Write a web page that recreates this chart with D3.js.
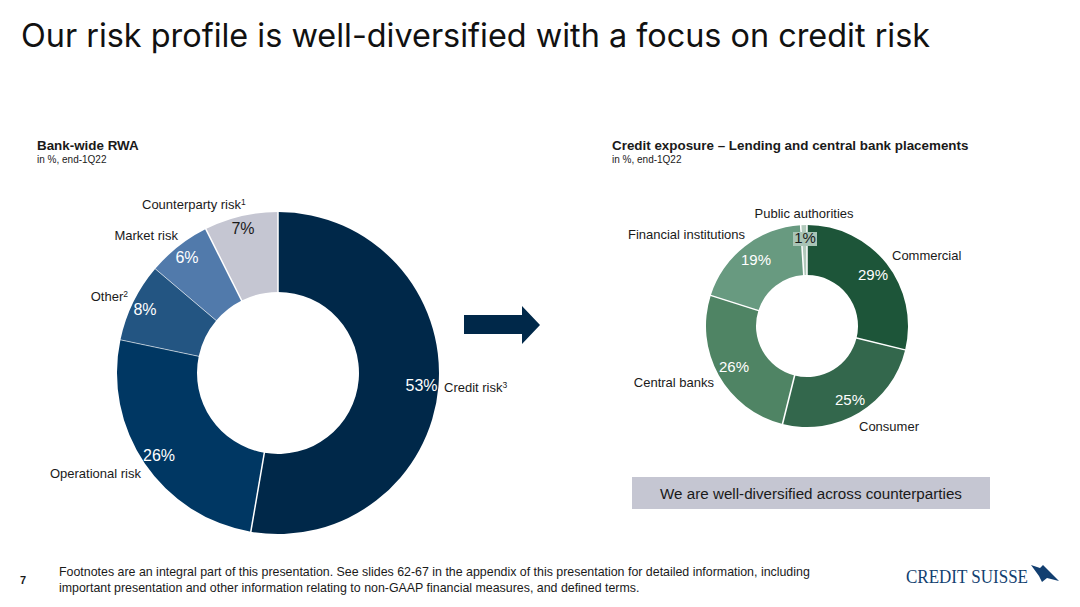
<!DOCTYPE html>
<html>
<head>
<meta charset="utf-8">
<script src="https://cdn.jsdelivr.net/npm/d3@7"></script>
<style>
    html, body { margin: 0; padding: 0; background: #fff; }
    text { font-family: "Liberation Sans", sans-serif; fill: #1a1a1a; }
</style>
</head>
<body>
<svg id="slide" width="1080" height="607"></svg>
<script>
// Bank-wide RWA (slice sizes, labels round them)
var rwaCategories = ['Credit risk', 'Operational risk', 'Other', 'Market risk', 'Counterparty risk'],
    rwaValues = [52.7, 25.6, 7.9, 6.4, 7.4],
    rwaNotes = ['3', '', '2', '', '1'],
    rwaColors = ['#002849', '#003763', '#235582', '#517aab', '#c5c6d2'];

// Credit exposure
var creditCategories = ['Commercial', 'Consumer', 'Central banks', 'Financial institutions', 'Public authorities'],
    creditValues = [28.8, 25.1, 26, 19.1, 1],
    creditColors = ['#1d5539', '#33674c', '#4f8464', '#689a80', '#b1c9bb'];

// label placement, one per slice [percent x, percent y, name x, name y, name anchor]
var rwaLabels = [
    [421.5, 386, 444, 392, 'start'],
    [159, 456, 141, 478, 'end'],
    [145, 310, 128, 301, 'end'],
    [187, 258, 178, 240, 'end'],
    [243, 229, 142, 209, 'start']
];
var creditLabels = [
    [873, 275, 892, 260, 'start'],
    [850, 400, 859, 431, 'start'],
    [734, 367, 714, 387, 'end'],
    [756, 260, 745, 239, 'end'],
    [805, 238, 804, 218, 'middle']
];

// white line at the start of each slice
var rwaSeparators = [1.5, 1.5, 0.6, 0.6, 1.5],
    creditSeparators = [1.5, 1.5, 1.5, 1.5, 1.5];

var svg = d3.select('#slide');

svg.append('text')
    .attr('x', 21).attr('y', 47)
    .style('font-family', 'Inter')
    .style('font-size', '32.4px')
    .style('fill', '#111')
    .text('Our risk profile is well-diversified with a focus on credit risk');

heading(37, 150, 'Bank-wide RWA');
heading(612, 150, 'Credit exposure \u2013 Lending and central bank placements');

donut({
    cx: 278, cy: 373, outer: 161, inner: 81, percentSize: 16,
    categories: rwaCategories, values: rwaValues, colors: rwaColors,
    notes: rwaNotes, labels: rwaLabels, separators: rwaSeparators, darkLabel: 4
});

donut({
    cx: 807, cy: 326, outer: 101, inner: 51, percentSize: 15,
    categories: creditCategories, values: creditValues, colors: creditColors,
    notes: [], labels: creditLabels, separators: creditSeparators, darkLabel: 4, boxLabel: 4
});

// Arrow between the charts
svg.append('path')
    .attr('d', 'M464,315H522V306L540,325L522,344V334H464Z')
    .attr('fill', '#002849');

// Callout
svg.append('rect')
    .attr('x', 632).attr('y', 477)
    .attr('width', 358).attr('height', 32)
    .attr('fill', '#c5c6d2');

svg.append('text')
    .attr('x', 811).attr('y', 499)
    .attr('text-anchor', 'middle')
    .style('font-size', '15.2px')
    .text('We are well-diversified across counterparties');

// Footer
svg.append('text')
    .attr('x', 20).attr('y', 584)
    .style('font-size', '11px')
    .style('font-weight', 'bold')
    .text('7');

[
    'Footnotes are an integral part of this presentation. See slides 62-67 in the appendix of this presentation for detailed information, including',
    'important presentation and other information relating to non-GAAP financial measures, and defined terms.'
].forEach((line, i) => {
    svg.append('text')
        .attr('x', 59).attr('y', 576 + i * 16)
        .style('font-size', '12.4px')
        .text(line);
});

// Logo
svg.append('text')
    .attr('x', 906).attr('y', 583)
    .attr('textLength', 122)
    .attr('lengthAdjust', 'spacingAndGlyphs')
    .style('font-family', '"Liberation Serif"')
    .style('font-size', '19.5px')
    .style('fill', '#123f70')
    .text('CREDIT SUISSE');

svg.append('path')
    .attr('d', 'M1031,565L1040,568L1043,565L1059,581L1047,578L1042,582L1039,576Z')
    .attr('fill', '#123f70');

function heading(x, y, title) {
    svg.append('text')
        .attr('x', x).attr('y', y)
        .style('font-size', '13.4px')
        .style('font-weight', 'bold')
        .text(title);

    svg.append('text')
        .attr('x', x).attr('y', y + 13)
        .style('font-size', '10px')
        .text('in %, end-1Q22');
}

function donut(o) {
    let pie = d3.pie().sort(null)(o.values);
    let arc = d3.arc().innerRadius(o.inner).outerRadius(o.outer);

    let g = svg.append('g').attr('transform', 'translate(' + o.cx + ',' + o.cy + ')');

    g.selectAll('path.slice')
        .data(pie)
        .enter().append('path')
        .attr('class', 'slice')
        .attr('d', arc)
        .attr('fill', (d, i) => o.colors[i]);

    g.selectAll('line')
        .data(pie)
        .enter().append('line')
        .attr('x1', d => d3.pointRadial(d.startAngle, o.inner - 1)[0])
        .attr('y1', d => d3.pointRadial(d.startAngle, o.inner - 1)[1])
        .attr('x2', d => d3.pointRadial(d.startAngle, o.outer + 1)[0])
        .attr('y2', d => d3.pointRadial(d.startAngle, o.outer + 1)[1])
        .attr('stroke', '#fff')
        .attr('stroke-width', (d, i) => o.separators[i]);

    o.values.forEach((value, i) => {
        let l = o.labels[i];

        if (o.boxLabel === i) {
            svg.append('rect')
                .attr('x', l[0] - 12).attr('y', l[1] - 6)
                .attr('width', 24).attr('height', 14)
                .attr('fill', '#a9c4b6');
        }

        svg.append('text')
            .attr('x', l[0]).attr('y', l[1] + 5)
            .attr('text-anchor', 'middle')
            .style('font-size', o.percentSize + 'px')
            .style('fill', o.darkLabel === i ? '#1a1a1a' : '#fff')
            .text(d3.format('.0f')(value) + '%');

        let name = svg.append('text')
            .attr('x', l[2]).attr('y', l[3])
            .attr('text-anchor', l[4])
            .style('font-size', '13px')
            .text(o.categories[i]);

        if (o.notes[i]) {
            name.append('tspan')
                .attr('dy', -4)
                .style('font-size', '8.5px')
                .text(o.notes[i]);
        }
    });
}
</script>
</body>
</html>
